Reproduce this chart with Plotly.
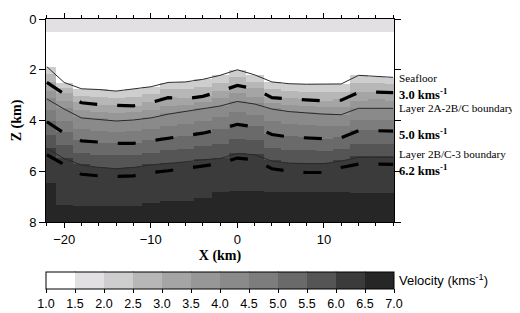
import numpy as np
import plotly.graph_objects as go

# ---------------- data ----------------
x_km = [-22, -20, -18, -16, -14, -12, -10, -8, -6, -4, -2, 0, 2, 4, 6, 8, 10, 12, 14, 16, 18]

seafloor_z = [1.88, 2.50, 2.75, 2.78, 2.84, 2.76, 2.67, 2.50, 2.48, 2.38, 2.22, 2.00,
              2.20, 2.48, 2.55, 2.57, 2.57, 2.56, 2.22, 2.25, 2.30]
vel30_z = [2.50, 2.95, 3.30, 3.37, 3.40, 3.42, 3.30, 3.10, 3.15, 3.05, 2.85, 2.62,
           2.75, 3.10, 3.15, 3.20, 3.23, 3.20, 2.90, 2.88, 2.90]
layer2a_z = [3.15, 3.55, 3.90, 3.95, 4.02, 3.98, 3.90, 3.75, 3.65, 3.55, 3.43, 3.25,
             3.35, 3.55, 3.65, 3.70, 3.75, 3.77, 3.52, 3.52, 3.52]
vel50_z = [4.05, 4.50, 4.80, 4.86, 4.90, 4.90, 4.80, 4.70, 4.62, 4.50, 4.35, 4.15,
           4.25, 4.55, 4.65, 4.70, 4.72, 4.68, 4.40, 4.40, 4.42]
layer3_z = [5.10, 5.50, 5.75, 5.85, 5.90, 5.85, 5.75, 5.70, 5.63, 5.55, 5.50, 5.30,
            5.35, 5.60, 5.68, 5.70, 5.70, 5.60, 5.45, 5.45, 5.45]
vel62_z = [5.35, 5.75, 6.12, 6.18, 6.20, 6.18, 6.05, 5.98, 5.88, 5.80, 5.70, 5.48,
           5.55, 5.90, 6.00, 6.05, 6.05, 5.85, 5.72, 5.72, 5.73]
vel65_z = [6.50, 7.35, 7.37, 7.37, 7.37, 7.37, 7.30, 7.20, 7.20, 7.10, 6.85, 6.80,
           6.80, 6.82, 6.85, 6.85, 6.85, 6.85, 6.88, 6.88, 6.88]

surface_band_z = 0.5       # bottom of the shallow band
v_surface_band = 1.6
v_water = 1.45
v_seafloor = 2.05
v_layer2a = 4.0
v_layer3 = 6.0
v_bottom = 6.8
z_bottom = 8.0

cbar_ticks = [1.0, 1.5, 2.0, 2.5, 3.0, 3.5, 4.0, 4.5, 5.0, 5.5, 6.0, 6.5, 7.0]
band_colors = ["#ffffff", "#e2e0e2", "#cdcecd", "#b7b7b7", "#a5a5a5", "#979797",
               "#8a8a8a", "#7d7d7d", "#6a6a6a", "#555555", "#3b3b3b", "#262626"]

# ---------------- velocity model grid ----------------
depths = np.round(np.arange(0, 8.0001, 0.05), 3)
eps = 1e-4
Z = np.zeros((len(depths), len(x_km)))
for j in range(len(x_km)):
    knots = [0.0, surface_band_z, surface_band_z + eps, seafloor_z[j], seafloor_z[j] + eps,
             vel30_z[j], layer2a_z[j], vel50_z[j], layer3_z[j], vel62_z[j], vel65_z[j], z_bottom]
    vals = [v_surface_band, v_surface_band, v_water, v_water, v_seafloor,
            3.0, v_layer2a, 5.0, v_layer3, 6.2, 6.5, v_bottom]
    Z[:, j] = np.interp(depths, knots, vals)

n = len(band_colors)
colorscale = []
for i, c in enumerate(band_colors):
    colorscale.append([i / n, c])
    colorscale.append([(i + 1) / n, c])

PLOT_H = 209          # plot-area height in px (313 - 5 - 99)
CB_TOP = -0.245       # colorbar top in paper units
CB_THICK = 17

fig = go.Figure()
fig.add_trace(go.Heatmap(
    x=x_km, y=depths, z=Z, zmin=1.0, zmax=7.0, colorscale=colorscale, zsmooth=False,
    hoverinfo="skip",
    colorbar=dict(
        orientation="h", x=0, xanchor="left", y=CB_TOP, yanchor="top",
        thickness=CB_THICK, thicknessmode="pixels", len=348, lenmode="pixels",
        outlinecolor="black", outlinewidth=1, xpad=0, ypad=0,
        tickmode="array", tickvals=cbar_ticks, ticktext=[f"{t:.1f}" for t in cbar_ticks],
        ticks="outside", ticklen=4, tickcolor="black",
        tickfont=dict(family="Liberation Sans", size=12.5, color="black"),
    ),
))

# separators between colour-bar cells
for t in cbar_ticks[1:-1]:
    fx = (t - cbar_ticks[0]) / (cbar_ticks[-1] - cbar_ticks[0])
    fig.add_shape(type="line", xref="paper", yref="paper", x0=fx, x1=fx,
                  y0=CB_TOP, y1=CB_TOP - CB_THICK / PLOT_H,
                  line=dict(color="black", width=1))

thin = dict(color="#2a2a2a", width=1)
thick = dict(color="black", width=3.2, dash="18px,20px")
for zz, ln in [(seafloor_z, thin), (layer2a_z, thin), (layer3_z, thin),
               (vel30_z, thick), (vel50_z, thick), (vel62_z, thick)]:
    fig.add_trace(go.Scatter(x=x_km, y=zz, mode="lines", line=ln, showlegend=False,
                             hoverinfo="skip"))

labels = [("Seafloor", 2.33, False), ("3.0 kms<sup>-1</sup>", 2.95, True),
          ("Layer 2A-2B/C boundary", 3.52, False), ("5.0 kms<sup>-1</sup>", 4.52, True),
          ("Layer 2B/C-3 boundary", 5.33, False), ("6.2 kms<sup>-1</sup>", 5.95, True)]
for txt, yy, bold in labels:
    fig.add_annotation(
        x=1, xref="paper", xshift=4, xanchor="left", y=yy, yref="y", yanchor="middle",
        text=f"<b>{txt}</b>" if bold else txt, showarrow=False, borderpad=0,
        font=dict(family="Liberation Serif", size=12.5 if bold else 11.2, color="black"))

fig.add_annotation(
    x=1, xref="paper", xshift=4, xanchor="left", y=CB_TOP - CB_THICK / PLOT_H / 2,
    yref="paper", yanchor="middle",
    text="Velocity (kms<sup>-1</sup>)", showarrow=False, borderpad=0,
    font=dict(family="Liberation Sans", size=13, color="black"))

fig.update_layout(
    width=520, height=313, margin=dict(l=38, r=134, t=5, b=99),
    paper_bgcolor="white", plot_bgcolor="white", showlegend=False,
)
fig.update_xaxes(
    range=[-22.1, 18.1], tickmode="linear", tick0=0, dtick=10, ticks="outside", ticklen=5,
    tickcolor="black", showline=True, linecolor="black", linewidth=1, mirror="ticks",
    showgrid=False, zeroline=False,
    minor=dict(dtick=2, tick0=0, ticks="outside", ticklen=3, tickcolor="black", showgrid=False),
    tickfont=dict(family="Liberation Sans", size=13, color="black"),
    title=dict(text="<b>X (km)</b>", standoff=4,
               font=dict(family="Liberation Serif", size=14, color="black")),
)
fig.update_yaxes(
    range=[8, 0], tickmode="linear", tick0=0, dtick=2, ticks="outside", ticklen=6,
    tickcolor="black", showline=True, linecolor="black", linewidth=1, mirror="ticks",
    showgrid=False, zeroline=False,
    tickfont=dict(family="Liberation Sans", size=13, color="black"),
    title=dict(text="<b>Z (km)</b>", standoff=4,
               font=dict(family="Liberation Serif", size=14, color="black")),
)

fig.write_html("out.html")
